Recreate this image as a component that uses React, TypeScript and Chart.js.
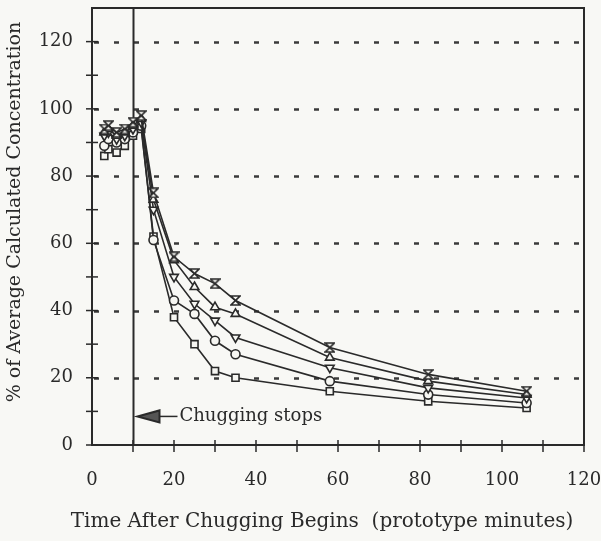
import { useEffect, useRef } from 'react';
import { Chart, registerables } from 'chart.js';

Chart.register(...registerables);

// Sample times in prototype minutes
const minutes = [3, 4, 6, 8, 10, 12, 15, 20, 25, 30, 35, 58, 82, 106];

// Percent of average calculated concentration, one array per measurement location
const hourglassSeries = [94, 95, 93, 94, 96, 98, 75, 56, 51, 48, 43, 29, 21, 16];
const triangleUpSeries = [93, 94, 92, 93, 95, 97, 73, 55, 47, 41, 39, 26, 19, 15];
const triangleDownSeries = [92, 93, 91, 92, 94, 96, 70, 50, 42, 37, 32, 23, 17, 14];
const circleSeries = [89, 91, 90, 91, 93, 95, 61, 43, 39, 31, 27, 19, 15, 12.5];
const squareSeries = [86, 88, 87, 89, 92, 94, 62, 38, 30, 22, 20, 16, 13, 11];

const xTickValues = [0, 20, 40, 60, 80, 100, 120];
const yTickValues = [0, 20, 40, 60, 80, 100, 120];
const gridValues = [20, 40, 60, 80, 100, 120];
const chuggingStopsAt = 10;
const annotationLevel = 8.5;
const annotationText = 'Chugging stops';
const xTitle = 'Time After Chugging Begins  (prototype minutes)';
const yTitle = '% of Average Calculated Concentration';

const INK = '#2a2a2a';
const SERIF = '"DejaVu Serif", "Liberation Serif", serif';

function makeHourglass(size: number): HTMLCanvasElement {
  const c = document.createElement('canvas');
  c.width = size;
  c.height = size;
  const g = c.getContext('2d')!;
  g.strokeStyle = INK;
  g.fillStyle = '#f6f6f2';
  g.lineWidth = 1.6;
  g.beginPath();
  g.moveTo(1, 1);
  g.lineTo(size - 1, 1);
  g.lineTo(1, size - 1);
  g.lineTo(size - 1, size - 1);
  g.closePath();
  g.fill();
  g.stroke();
  return c;
}

const decorPlugin = {
  id: 'decor',
  beforeDatasetsDraw(chart: any) {
    const { ctx, chartArea: a, scales } = chart;
    const x = scales.x;
    const y = scales.y;
    ctx.save();

    // dotted horizontal grid
    ctx.strokeStyle = '#3a3a3a';
    ctx.lineWidth = 2.5;
    ctx.setLineDash([5, 15]);
    ctx.lineDashOffset = -2;
    for (const v of gridValues) {
      const py = Math.round(y.getPixelForValue(v)) + 0.5;
      ctx.beginPath();
      ctx.moveTo(a.left, py);
      ctx.lineTo(a.right, py);
      ctx.stroke();
    }
    ctx.setLineDash([]);

    // plot frame
    ctx.strokeStyle = INK;
    ctx.lineWidth = 2;
    ctx.strokeRect(a.left, a.top, a.right - a.left, a.bottom - a.top);

    // cross ticks on both axes
    ctx.lineWidth = 1.5;
    for (let v = 10; v <= 120; v += 10) {
      const px = x.getPixelForValue(v);
      ctx.beginPath();
      ctx.moveTo(px, a.bottom - 5);
      ctx.lineTo(px, a.bottom + 7);
      ctx.stroke();
    }
    for (let v = 0; v <= 120; v += 10) {
      const py = y.getPixelForValue(v);
      ctx.beginPath();
      ctx.moveTo(a.left - 6, py);
      ctx.lineTo(a.left + 6, py);
      ctx.stroke();
    }

    // end-of-chugging marker line
    const sx = Math.round(x.getPixelForValue(chuggingStopsAt)) + 0.5;
    ctx.lineWidth = 2;
    ctx.beginPath();
    ctx.moveTo(sx, a.top);
    ctx.lineTo(sx, a.bottom);
    ctx.stroke();

    // arrow + label
    const ay = y.getPixelForValue(annotationLevel);
    const tip = sx + 4;
    const head = 22;
    ctx.fillStyle = '#555';
    ctx.strokeStyle = INK;
    ctx.lineWidth = 2;
    ctx.beginPath();
    ctx.moveTo(tip, ay);
    ctx.lineTo(tip + head, ay - 6);
    ctx.lineTo(tip + head, ay + 6);
    ctx.closePath();
    ctx.fill();
    ctx.stroke();
    ctx.lineWidth = 1.5;
    ctx.beginPath();
    ctx.moveTo(tip + head, ay);
    ctx.lineTo(tip + head + 18, ay);
    ctx.stroke();
    ctx.fillStyle = INK;
    ctx.font = `18px ${SERIF}`;
    ctx.textBaseline = 'middle';
    ctx.textAlign = 'left';
    ctx.fillText(annotationText, tip + head + 20, ay);

    // axis titles
    ctx.textAlign = 'center';
    ctx.font = `20px ${SERIF}`;
    ctx.fillText(xTitle, a.left + 230, chart.height - 19);
    ctx.save();
    ctx.translate(15, a.top + 204);
    ctx.rotate(-Math.PI / 2);
    ctx.font = `19px ${SERIF}`;
    ctx.fillText(yTitle, 0, 0);
    ctx.restore();

    ctx.restore();
  },
};

export default function App() {
  const canvasRef = useRef<HTMLCanvasElement | null>(null);

  useEffect(() => {
    const canvas = canvasRef.current;
    if (!canvas) return;
    const hourglass = makeHourglass(11);

    const base = {
      borderColor: INK,
      backgroundColor: '#f6f6f2',
      borderWidth: 1.6,
      pointRadius: 5,
      pointBorderWidth: 1.6,
      pointBackgroundColor: '#f6f6f2',
      pointBorderColor: INK,
      tension: 0,
    };

    const toPoints = (vals: number[]) => minutes.map((m, i) => ({ x: m, y: vals[i] }));

    const chart = new Chart(canvas, {
      type: 'line',
      data: {
        datasets: [
          { ...base, label: 'A', data: toPoints(hourglassSeries), pointStyle: hourglass as any },
          { ...base, label: 'B', data: toPoints(triangleUpSeries), pointStyle: 'triangle' },
          { ...base, label: 'C', data: toPoints(triangleDownSeries), pointStyle: 'triangle', pointRotation: 180 },
          { ...base, label: 'D', data: toPoints(circleSeries), pointStyle: 'circle', pointRadius: 4.5 },
          { ...base, label: 'E', data: toPoints(squareSeries), pointStyle: 'rect', pointRadius: 5 },
        ],
      },
      options: {
        animation: false,
        responsive: false,
        devicePixelRatio: 1,
        layout: { padding: { top: 8, right: 17, left: 0, bottom: 0 } },
        plugins: { legend: { display: false }, tooltip: { enabled: false } },
        scales: {
          x: {
            type: 'linear',
            min: 0,
            max: 120,
            grid: { display: false },
            border: { display: false },
            afterBuildTicks: (s: any) => {
              s.ticks = xTickValues.map((v) => ({ value: v }));
            },
            afterFit: (s: any) => {
              s.height = 96;
              s.paddingLeft = 0;
              s.paddingRight = 0;
            },
            ticks: {
              autoSkip: false,
              maxRotation: 0,
              padding: 17,
              color: INK,
              font: { family: SERIF, size: 18 },
            },
          },
          y: {
            type: 'linear',
            min: 0,
            max: 130,
            grid: { display: false },
            border: { display: false },
            afterBuildTicks: (s: any) => {
              s.ticks = yTickValues.map((v) => ({ value: v }));
            },
            afterFit: (s: any) => {
              s.width = 92;
              s.paddingTop = 0;
              s.paddingBottom = 0;
            },
            ticks: {
              autoSkip: false,
              padding: 11,
              color: INK,
              font: { family: SERIF, size: 18 },
            },
          },
        },
      },
      plugins: [decorPlugin],
    });

    return () => chart.destroy();
  }, []);

  return (
    <div style={{ position: 'fixed', left: 0, top: 0, width: 601, height: 541, background: '#f8f8f5' }}>
      <canvas ref={canvasRef} width={601} height={541} />
    </div>
  );
}
